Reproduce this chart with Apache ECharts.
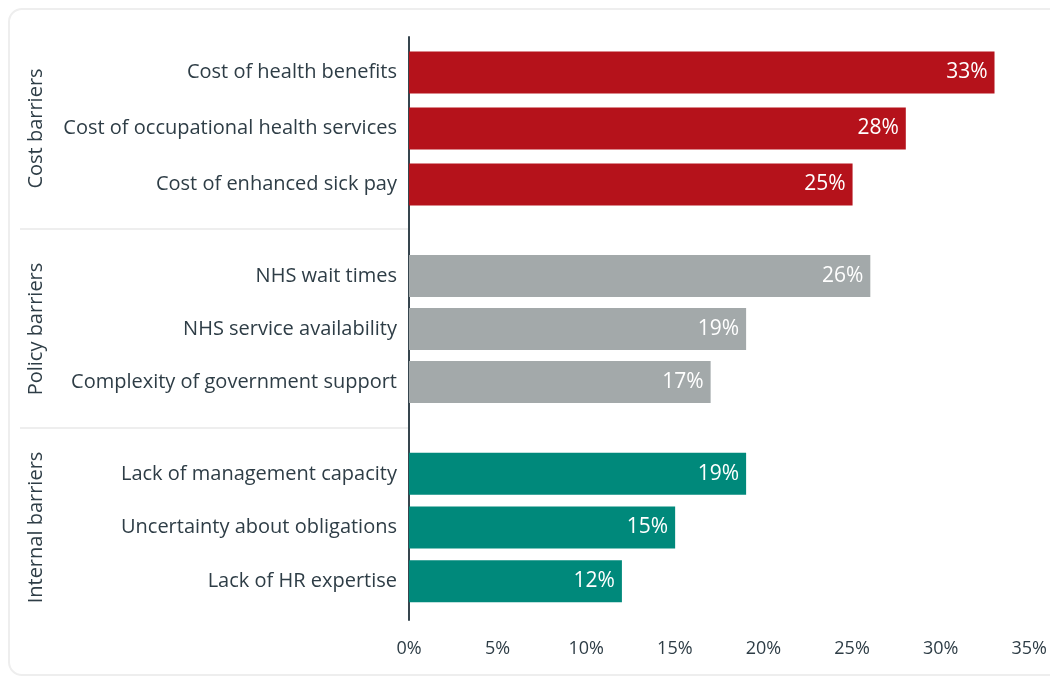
<!DOCTYPE html>
<html>
<head>
<meta charset="utf-8">
<script src="https://cdn.jsdelivr.net/npm/echarts@6/dist/echarts.min.js"></script>
<style>
  html, body { margin: 0; padding: 0; background: #ffffff; overflow: hidden; }
  #card { position: absolute; left: 8px; top: 8px; width: 1070px; height: 668px;
          border: 2px solid #eeeeee; border-radius: 14px; box-sizing: border-box; }
  #chart { position: absolute; left: 0; top: 0; width: 1050px; height: 681px; }
</style>
</head>
<body>
<div id="card"></div>
<div id="chart"></div>
<script>
const groupNames = ['Cost barriers', 'Policy barriers', 'Internal barriers'];
const costCategories = ['Cost of health benefits', 'Cost of occupational health services', 'Cost of enhanced sick pay'];
const costValues = [33, 28, 25];
const policyCategories = ['NHS wait times', 'NHS service availability', 'Complexity of government support'];
const policyValues = [26, 19, 17];
const internalCategories = ['Lack of management capacity', 'Uncertainty about obligations', 'Lack of HR expertise'];
const internalValues = [19, 15, 12];
const xMin = 0, xMax = 35, xInterval = 5;

const groupCategories = [costCategories, policyCategories, internalCategories];
const groupValues = [costValues, policyValues, internalValues];
const groupColors = ['#b5121b', '#a3a9aa', '#00897b'];

const FONT = 'Open Sans';
const TEXT = '#2e3d46';

const chart = echarts.init(document.getElementById('chart'), null, { renderer: 'canvas' });

const gridDefs = [
  { left: 409, right: 20, top: 37, bottom: 61 },
  { left: 409, right: 20, top: 44.5, height: 168 },
  { left: 409, right: 20, top: 249.5, height: 159 },
  { left: 409, right: 20, top: 447, height: 161 }
];

const xAxes = [{
  gridIndex: 0, type: 'value', min: xMin, max: xMax, interval: xInterval,
  axisLine: { show: false }, axisTick: { show: false }, splitLine: { show: false },
  axisLabel: { formatter: '{value}%', color: TEXT, fontFamily: FONT, fontSize: 18, margin: 20 }
}];
const yAxes = [{
  gridIndex: 0, type: 'value', min: 0, max: 1,
  axisLine: { show: true, lineStyle: { color: '#36454e', width: 2 } },
  axisTick: { show: false }, axisLabel: { show: false }, splitLine: { show: false }
}];
const series = [];

groupNames.forEach((g, i) => {
  const gi = i + 1;
  xAxes.push({ gridIndex: gi, type: 'value', min: xMin, max: xMax, interval: xInterval, show: false, splitLine: { show: false } });
  yAxes.push({
    gridIndex: gi, type: 'category', inverse: true, data: groupCategories[i],
    name: g, nameLocation: 'middle', nameRotate: 90, nameGap: 363,
    nameTextStyle: { color: TEXT, fontFamily: FONT, fontSize: 20 },
    axisLine: { show: false }, axisTick: { show: false },
    axisLabel: { color: TEXT, fontFamily: FONT, fontSize: 20, margin: 12 }
  });
  series.push({
    type: 'bar', xAxisIndex: gi, yAxisIndex: gi, data: groupValues[i],
    barWidth: 42, itemStyle: { color: groupColors[i] },
    label: { show: true, position: 'insideRight', distance: 7, formatter: '{c}%',
             color: '#ffffff', fontFamily: FONT, fontSize: 21 }
  });
});

chart.setOption({
  animation: false,
  grid: gridDefs,
  xAxis: xAxes,
  yAxis: yAxes,
  series: series,
  graphic: [
    { type: 'line', shape: { x1: 20, y1: 229, x2: 409, y2: 229 }, style: { stroke: '#eeeeee', lineWidth: 2 } },
    { type: 'line', shape: { x1: 20, y1: 428, x2: 409, y2: 428 }, style: { stroke: '#eeeeee', lineWidth: 2 } }
  ]
});
</script>
</body>
</html>
